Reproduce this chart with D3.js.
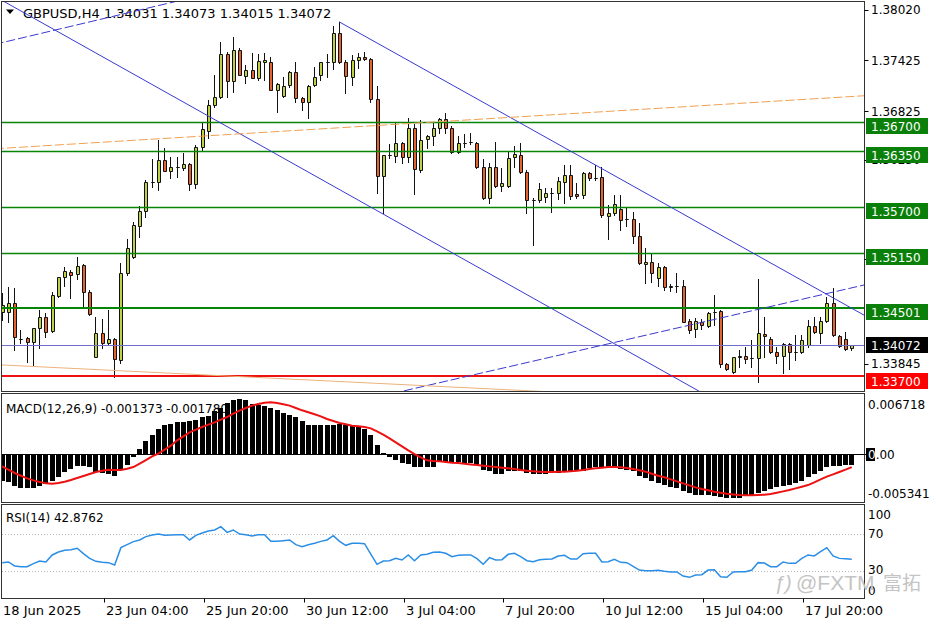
<!DOCTYPE html>
<html><head><meta charset="utf-8">
<script src="https://cdn.jsdelivr.net/npm/d3@7"></script>
<style>html,body{margin:0;padding:0;background:#fff;} svg{display:block;font-family:"DejaVu Sans",sans-serif;}</style>
</head><body><svg id="c" width="936" height="624"></svg>
<script>
// ---------- DATA ----------
const symbolTitle = "GBPUSD,H4";
const lastOHLC = ["1.34031","1.34073","1.34015","1.34072"];
const openP = [
1.34462,1.34462,1.34561,1.34137,1.34149,1.34109,1.34267,1.34403,1.34235,1.34650,
1.34867,1.34933,1.34906,1.35012,1.34691,1.33932,1.34208,1.34090,1.34137,1.33893,
1.34922,1.35110,1.35472,1.35648,1.35994,1.35994,1.36249,1.36123,1.36170,1.36158,
1.36202,1.35963,1.36399,1.36594,1.36894,1.36995,1.37494,1.37180,1.37545,1.37239,
1.37309,1.37219,1.37400,1.37400,1.37074,1.37007,1.37133,1.37289,1.36983,1.36936,
1.37129,1.37251,1.37400,1.37400,1.37742,1.37407,1.37231,1.37427,1.37466,1.37435,
1.36968,1.36064,1.36308,1.36296,1.36453,1.36288,1.36630,1.36131,1.36493,1.36532,
1.36623,1.36729,1.36623,1.36347,1.36453,1.36465,1.36453,1.36163,1.35798,1.36163,
1.35947,1.35947,1.36281,1.36308,1.36111,1.35778,1.35778,1.35817,1.35857,1.35857,
1.35994,1.36073,1.35845,1.35837,1.36093,1.36041,1.36045,1.35593,1.35621,1.35668,
1.35551,1.35551,1.35354,1.35024,1.35051,1.34856,1.34992,1.34750,1.34759,1.34765,
1.34353,1.34258,1.34344,1.34294,1.34462,1.34470,1.33846,1.33755,1.33925,1.33940,
1.33913,1.33913,1.34200,1.34137,1.33984,1.33940,1.34082,1.33991,1.33991,1.34070,
1.34294,1.34215,1.34356,1.34568,1.34176,1.34141,1.34031];
const highP = [
1.34679,1.34757,1.34738,1.34247,1.34168,1.34267,1.34482,1.34443,1.34698,1.34875,
1.34992,1.34953,1.35103,1.35020,1.34718,1.34403,1.34376,1.34482,1.34149,1.35032,
1.35315,1.35522,1.35707,1.36014,1.36257,1.36485,1.36387,1.36288,1.36288,1.36328,
1.36210,1.36426,1.36700,1.36956,1.37247,1.37643,1.37525,1.37702,1.37565,1.37368,
1.37506,1.37498,1.37513,1.37459,1.37153,1.37231,1.37301,1.37407,1.36995,1.37133,
1.37348,1.37407,1.37498,1.37828,1.37878,1.37427,1.37486,1.37506,1.37525,1.37447,
1.37121,1.36308,1.36438,1.36682,1.36465,1.36740,1.36673,1.36720,1.36544,1.36700,
1.36740,1.36806,1.36650,1.36532,1.36556,1.36564,1.36465,1.36257,1.36210,1.36465,
1.36151,1.36347,1.36414,1.36446,1.36131,1.35798,1.35975,1.35916,1.35916,1.36053,
1.36190,1.36190,1.35975,1.36111,1.36111,1.36190,1.36170,1.35719,1.35837,1.35837,
1.35680,1.35640,1.35511,1.35209,1.35157,1.35032,1.35001,1.34789,1.34922,1.34836,
1.34376,1.34388,1.34376,1.34459,1.34659,1.34482,1.33861,1.33932,1.34011,1.34050,
1.34129,1.34844,1.34403,1.34161,1.34050,1.34090,1.34090,1.34188,1.34188,1.34364,
1.34403,1.34403,1.34639,1.34738,1.34188,1.34227,1.34073];
const lowP = [
1.34364,1.34344,1.34011,1.34090,1.33873,1.33834,1.34031,1.34168,1.34227,1.34640,
1.34765,1.34620,1.34844,1.34529,1.34423,1.33925,1.34031,1.34070,1.33697,1.33861,
1.34894,1.35091,1.35346,1.35581,1.35935,1.35896,1.36123,1.36034,1.36053,1.36131,
1.35896,1.35916,1.36367,1.36505,1.36870,1.36983,1.36995,1.37054,1.37251,1.37153,
1.37219,1.37192,1.37192,1.37074,1.36818,1.36995,1.37106,1.36936,1.36838,1.36740,
1.37121,1.37192,1.37231,1.37318,1.37395,1.37035,1.37133,1.37329,1.37427,1.36936,
1.35864,1.35621,1.36269,1.36229,1.36217,1.36229,1.35845,1.36111,1.36387,1.36426,
1.36571,1.36564,1.36335,1.36335,1.36406,1.36438,1.36151,1.35786,1.35746,1.35935,
1.35884,1.35935,1.36170,1.36093,1.35621,1.35248,1.35758,1.35758,1.35640,1.35786,
1.35739,1.35786,1.35798,1.35798,1.36014,1.36014,1.35581,1.35315,1.35601,1.35425,
1.35472,1.35275,1.35024,1.34797,1.34816,1.34765,1.34718,1.34706,1.34698,1.34341,
1.34211,1.34164,1.34258,1.34282,1.34306,1.33814,1.33775,1.33744,1.33814,1.33854,
1.33814,1.33638,1.33932,1.33972,1.33854,1.33737,1.33784,1.33893,1.33979,1.34050,
1.34208,1.34090,1.34344,1.34176,1.34050,1.34011,1.34015];
const closeP = [
1.34541,1.34561,1.34168,1.34140,1.34102,1.34267,1.34403,1.34227,1.34659,1.34875,
1.34945,1.34894,1.35004,1.34698,1.34435,1.34208,1.34090,1.34137,1.33901,1.34914,
1.35209,1.35484,1.35648,1.35994,1.35990,1.36249,1.36123,1.36170,1.36165,1.36202,
1.35963,1.36399,1.36611,1.36894,1.36995,1.37494,1.37180,1.37545,1.37251,1.37309,
1.37219,1.37419,1.37427,1.37074,1.37141,1.37121,1.37289,1.36983,1.36936,1.37121,
1.37231,1.37400,1.37403,1.37742,1.37407,1.37239,1.37427,1.37466,1.37435,1.36968,
1.36064,1.36308,1.36305,1.36453,1.36288,1.36630,1.36140,1.36485,1.36532,1.36623,
1.36729,1.36623,1.36347,1.36453,1.36450,1.36462,1.36163,1.35798,1.36163,1.35943,
1.35982,1.36276,1.36316,1.36111,1.35778,1.35775,1.35904,1.35857,1.35855,1.36002,
1.36073,1.35825,1.35825,1.36093,1.36034,1.36038,1.35601,1.35621,1.35727,1.35542,
1.35548,1.35354,1.35032,1.35051,1.34922,1.34992,1.34750,1.34759,1.34765,1.34344,
1.34247,1.34353,1.34306,1.34450,1.34458,1.33843,1.33784,1.33925,1.33940,1.33901,
1.33910,1.34208,1.34176,1.33991,1.33940,1.34082,1.33991,1.33988,1.34128,1.34294,
1.34227,1.34356,1.34568,1.34188,1.34058,1.34023,1.34072];

const macdHist = [
-0.00358,-0.00372,-0.00417,-0.00454,-0.00454,-0.00449,-0.00417,-0.00395,-0.00358,-0.00304,
-0.00236,-0.00190,-0.00154,-0.00154,-0.00168,-0.00236,-0.00245,-0.00258,-0.00281,-0.00190,
-0.00132,-0.00023,0.00068,0.00172,0.00254,0.00340,0.00390,0.00413,0.00431,0.00431,
0.00444,0.00467,0.00503,0.00522,0.00580,0.00626,0.00694,0.00730,0.00748,0.00739,
0.00685,0.00671,0.00658,0.00626,0.00594,0.00558,0.00535,0.00503,0.00444,0.00399,
0.00390,0.00390,0.00390,0.00390,0.00408,0.00390,0.00376,0.00363,0.00340,0.00263,
0.00127,0.00014,-0.00023,-0.00063,-0.00109,-0.00122,-0.00159,-0.00159,-0.00159,-0.00159,
-0.00100,-0.00100,-0.00100,-0.00100,-0.00113,-0.00113,-0.00132,-0.00204,-0.00222,-0.00258,
-0.00258,-0.00222,-0.00222,-0.00222,-0.00249,-0.00258,-0.00258,-0.00258,-0.00249,-0.00240,
-0.00227,-0.00222,-0.00222,-0.00213,-0.00177,-0.00159,-0.00177,-0.00177,-0.00177,-0.00190,
-0.00204,-0.00222,-0.00281,-0.00313,-0.00349,-0.00385,-0.00404,-0.00431,-0.00449,-0.00494,
-0.00522,-0.00540,-0.00540,-0.00540,-0.00553,-0.00567,-0.00585,-0.00585,-0.00585,-0.00553,
-0.00540,-0.00522,-0.00494,-0.00463,-0.00440,-0.00417,-0.00404,-0.00385,-0.00358,-0.00304,
-0.00258,-0.00222,-0.00160,-0.00152,-0.00146,-0.00141,-0.001373];
const macdSignal = [
-0.00168,-0.00213,-0.00258,-0.00295,-0.00331,-0.00358,-0.00381,-0.00399,-0.00404,-0.00395,
-0.00376,-0.00354,-0.00327,-0.00299,-0.00272,-0.00245,-0.00227,-0.00213,-0.00218,-0.00218,
-0.00200,-0.00177,-0.00132,-0.00082,-0.00032,0.00005,0.00059,0.00113,0.00186,0.00240,
0.00295,0.00331,0.00367,0.00399,0.00431,0.00467,0.00503,0.00549,0.00590,0.00626,
0.00658,0.00680,0.00698,0.00703,0.00694,0.00676,0.00658,0.00626,0.00594,0.00567,
0.00540,0.00512,0.00476,0.00449,0.00422,0.00404,0.00385,0.00376,0.00367,0.00349,
0.00308,0.00263,0.00213,0.00159,0.00104,0.00050,0.00000,-0.00045,-0.00086,-0.00095,
-0.00100,-0.00109,-0.00118,-0.00122,-0.00132,-0.00141,-0.00150,-0.00159,-0.00168,-0.00177,
-0.00186,-0.00195,-0.00204,-0.00218,-0.00227,-0.00236,-0.00240,-0.00245,-0.00245,-0.00240,
-0.00240,-0.00236,-0.00227,-0.00218,-0.00204,-0.00195,-0.00186,-0.00177,-0.00177,-0.00181,
-0.00190,-0.00204,-0.00222,-0.00240,-0.00268,-0.00295,-0.00317,-0.00345,-0.00372,-0.00399,
-0.00426,-0.00454,-0.00476,-0.00494,-0.00512,-0.00526,-0.00540,-0.00549,-0.00558,-0.00562,
-0.00562,-0.00558,-0.00553,-0.00544,-0.00526,-0.00508,-0.00490,-0.00467,-0.00444,-0.00422,
-0.00385,-0.00345,-0.00308,-0.00277,-0.00245,-0.00213,-0.00178];
const rsiValues = [
39.1,39.8,35.5,34.7,34.7,38.0,40.9,39.8,47.4,50.6,
52.4,53.1,54.6,48.8,43.7,40.5,39.4,39.1,36.5,55.3,
58.5,61.8,63.6,67.2,69.0,70.0,68.6,69.0,69.3,69.3,
63.6,68.6,71.1,73.3,74.4,78.0,71.8,74.4,70.0,69.3,
67.9,69.3,69.3,62.1,62.1,62.8,63.6,58.5,56.3,58.5,
60.0,62.1,63.6,68.2,62.1,57.8,60.0,60.0,59.6,48.4,
37.3,40.9,41.2,43.7,41.9,47.4,41.2,47.4,48.1,50.2,
50.6,49.2,45.5,47.0,47.4,47.4,43.4,37.3,44.5,41.9,
42.3,48.1,49.2,45.5,41.2,40.1,42.3,42.7,43.0,46.3,
47.0,43.0,43.0,48.8,49.2,49.2,39.8,40.1,42.7,39.4,
39.1,35.1,31.1,30.4,30.4,30.8,29.7,29.0,29.0,24.6,
23.2,25.7,26.1,31.1,31.5,23.9,23.2,29.0,29.3,29.3,
31.1,39.1,38.7,34.7,34.7,39.8,38.3,38.3,43.7,47.4,
46.3,50.9,55.3,46.3,43.7,43.4,42.88];

const macdTitle = "MACD(12,26,9) -0.001373 -0.001780";
const rsiTitle = "RSI(14) 42.8762";
const timeTickLabels = ["18 Jun 2025","23 Jun 04:00","25 Jun 20:00","30 Jun 12:00","3 Jul 04:00","7 Jul 20:00","10 Jul 12:00","15 Jul 04:00","17 Jul 20:00"];
const timeTickBars = [0,16,32,48,64,80,96,112,128];
const priceTickLabels = ["1.38020","1.37425","1.36825","1.36250","1.35085","1.33845"];
const greenLevels = [1.36700,1.36350,1.35700,1.35150,1.34501];
const bidLevel = 1.34072;
const redLevel = 1.33700;
const macdTickLabels = ["0.006718","0.00","-0.005341"];
const rsiTickLabels = ["100","70","30","0"];
const rsiLevels = [70,30];
// trend line anchors: [bar index, price]
const trendAnchors = [
  {id:"descMain",  a:[0.53,1.38110], b:[110.7,1.33563], ray:false},
  {id:"descUpper", a:[54,1.37878],   b:[137.4,1.34447], ray:true},
  {id:"ascUpper",  a:[0,1.37631],    b:[27.7,1.38114],  ray:false},
  {id:"ascLower",  a:[73.4,1.33681], b:[137.4,1.34765], ray:false},
  {id:"orgDashed", a:[0,1.36386],    b:[137.4,1.37003], ray:false},
  {id:"orgSolid",  a:[0,1.33834],    b:[75,1.33563],    ray:false}
];
const trendStyles = {
  descMain:{c:"#3a3ad0",w:1,d:null},
  descUpper:{c:"#3a3ad0",w:1,d:null},
  ascUpper:{c:"#3a3ad0",w:1,d:"9,3"},
  ascLower:{c:"#3a3ad0",w:1,d:"9,3"},
  orgDashed:{c:"#f0a050",w:1,d:"9,3"},
  orgSolid:{c:"#ecb27a",w:1,d:null}
};

// ---------- LAYOUT ----------
const svg = d3.select("#c");
const L = 2, R = 864.5;
const main = {top:1.5, bottom:391.5};
const macdP = {top:393.5, bottom:502.5};
const rsiP = {top:504.5, bottom:598.5};
const n = closeP.length;
const x = d3.scaleLinear().domain([0, 136]).range([1.7, 851.3]);
const y = d3.scaleLinear().domain([1.337, 1.3802]).range([376.3, 9.7]);
const ym = d3.scaleLinear().domain([-0.005341, 0.006718]).range([493.3, 404.6]);
const yr = d3.scaleLinear().domain([0, 100]).range([598.8, 506.3]);
const FONT = "DejaVu Sans";

const defs = svg.append("defs");
[["clipMain",main],["clipMacd",macdP],["clipRsi",rsiP]].forEach(([id,p])=>{
  defs.append("clipPath").attr("id",id).append("rect")
    .attr("x",L).attr("y",p.top).attr("width",R-L).attr("height",p.bottom-p.top);
});
svg.append("rect").attr("width",936).attr("height",624).attr("fill","#fff");

// ---------- MAIN PANEL ----------
const gMain = svg.append("g").attr("clip-path","url(#clipMain)");
gMain.append("path").attr("d","M6,9.5 L14,9.5 L10,14 Z").attr("fill","#000");
gMain.append("text").attr("x",23).attr("y",18).attr("font-size",13).attr("fill","#000")
  .attr("font-family",FONT).text(symbolTitle + "  " + lastOHLC.join(" "));

const cg = gMain.append("g");
for (let i=0;i<n;i++){
  const cx = Math.round(x(i));
  const o=openP[i], c=closeP[i], h=highP[i], l=lowP[i];
  const bull = c>=o;
  cg.append("line").attr("x1",cx+0.5).attr("x2",cx+0.5)
    .attr("y1",Math.round(y(h))).attr("y2",Math.round(y(l))+1)
    .attr("stroke","#111").attr("stroke-width",1);
  const yt = Math.round(y(Math.max(o,c)))+0.5, yb = Math.round(y(Math.min(o,c)))+0.5;
  cg.append("path").attr("d",`M${cx-0.5},${yt} h3 V${yb} h-3 Z`)
    .attr("fill", bull ? "#bfd044" : "#e4642e")
    .attr("stroke","#111").attr("stroke-width",1);
}

greenLevels.forEach((p,k)=>{
  const yy = Math.round(y(p)) + (k===4?0:0.5);
  gMain.append("line").attr("x1",L).attr("x2",R).attr("y1",yy).attr("y2",yy)
    .attr("stroke","#078507").attr("stroke-width",k===4?2:1.3);
});
gMain.append("line").attr("x1",L).attr("x2",R).attr("y1",Math.round(y(bidLevel))+0.5).attr("y2",Math.round(y(bidLevel))+0.5)
  .attr("stroke","#6f6fc8").attr("stroke-width",1);
gMain.append("line").attr("x1",L).attr("x2",R).attr("y1",Math.round(y(redLevel))).attr("y2",Math.round(y(redLevel)))
  .attr("stroke","#ee1111").attr("stroke-width",2);

trendAnchors.forEach(t=>{
  const s = trendStyles[t.id];
  const slope = (t.b[1]-t.a[1])/(t.b[0]-t.a[0]);
  const i0 = t.ray ? t.a[0] : -3, i1 = 141;
  gMain.append("line")
    .attr("x1",x(i0)).attr("y1",y(t.a[1]+slope*(i0-t.a[0])))
    .attr("x2",x(i1)).attr("y2",y(t.a[1]+slope*(i1-t.a[0])))
    .attr("stroke",s.c).attr("stroke-width",s.w).attr("stroke-dasharray",s.d);
});

// ---------- MACD PANEL ----------
svg.append("text").attr("x",6).attr("y",413).attr("font-size",12).attr("font-family",FONT)
  .attr("fill","#000").text(macdTitle);
const gM = svg.append("g").attr("clip-path","url(#clipMacd)");
const z0 = Math.round(ym(0));
gM.append("line").attr("x1",L).attr("x2",R).attr("y1",z0+0.5).attr("y2",z0+0.5).attr("stroke","#000");
macdHist.forEach((v,i)=>{
  const cx = Math.round(x(i));
  const yy = Math.round(ym(v));
  gM.append("rect").attr("x",cx-2).attr("width",5)
    .attr("y",Math.min(yy,z0)).attr("height",Math.max(1,Math.abs(yy-z0)+1)).attr("fill","#000");
});
gM.append("path").datum(macdSignal)
  .attr("d",d3.line().x((d,i)=>x(i)+0.5).y(d=>ym(d)))
  .attr("fill","none").attr("stroke","#ee1111").attr("stroke-width",2);

// ---------- RSI PANEL ----------
svg.append("text").attr("x",6).attr("y",521.5).attr("font-size",12).attr("font-family",FONT)
  .attr("fill","#000").text(rsiTitle);
const gR = svg.append("g").attr("clip-path","url(#clipRsi)");
rsiLevels.forEach(lv=>{
  gR.append("line").attr("x1",L).attr("x2",R).attr("y1",Math.round(yr(lv))+0.5).attr("y2",Math.round(yr(lv))+0.5)
    .attr("stroke","#b8b8b8").attr("stroke-dasharray","1,2");
});
gR.append("path").datum(rsiValues)
  .attr("d",d3.line().x((d,i)=>x(i)+0.5).y(d=>yr(d)))
  .attr("fill","none").attr("stroke","#2b8ee6").attr("stroke-width",1.5);

// ---------- FRAMES ----------
[main,macdP,rsiP].forEach(p=>{
  svg.append("rect").attr("x",L-0.5).attr("y",p.top).attr("width",R-L+0.5).attr("height",p.bottom-p.top)
    .attr("fill","none").attr("stroke","#333").attr("stroke-width",1);
});

// ---------- PRICE AXIS ----------
const ax = svg.append("g").attr("font-family",FONT).attr("font-size",12);
priceTickLabels.forEach(t=>{
  const yy = y(+t);
  ax.append("line").attr("x1",R).attr("x2",R+4).attr("y1",Math.round(yy)+0.5).attr("y2",Math.round(yy)+0.5).attr("stroke","#000");
  ax.append("text").attr("x",871).attr("y",yy+4.4).attr("fill","#000").text(t);
});
function priceBox(p, bg, off){
  const yy = Math.round(y(p)) + off;
  ax.append("rect").attr("x",866).attr("y",yy-8).attr("width",62).attr("height",16).attr("fill",bg);
  ax.append("text").attr("x",871).attr("y",yy+4.5).attr("fill","#fff").text(p.toFixed(5));
}
greenLevels.forEach(p=>priceBox(p,"#0a800a",4));
priceBox(bidLevel,"#000",0);
priceBox(redLevel,"#ff0000",5);

ax.append("text").attr("x",868).attr("y",ym(0.006718)+4.4).text(macdTickLabels[0]);
ax.append("rect").attr("x",866).attr("y",z0-6).attr("width",9).attr("height",13).attr("fill","#000");
const zt = ax.append("text").attr("x",868).attr("y",z0+4.9);
zt.append("tspan").attr("fill","#fff").text(macdTickLabels[1].slice(0,1));
zt.append("tspan").attr("fill","#000").text(macdTickLabels[1].slice(1));
ax.append("text").attr("x",868).attr("y",ym(-0.005341)+4.4).text(macdTickLabels[2]);
ax.append("line").attr("x1",R).attr("x2",R+3).attr("y1",z0+0.5).attr("y2",z0+0.5).attr("stroke","#000");

const rsiLabelY = [515, 534, 570, 591];
rsiTickLabels.forEach((t,k)=>{
  ax.append("text").attr("x",868).attr("y",rsiLabelY[k]+4.4).text(t);
});

// ---------- TIME AXIS ----------
const tx = svg.append("g").attr("font-family",FONT).attr("font-size",13);
timeTickLabels.forEach((t,k)=>{
  const xx = Math.round(x(timeTickBars[k]));
  if (k>0) tx.append("line").attr("x1",xx+2.5).attr("x2",xx+2.5).attr("y1",rsiP.bottom).attr("y2",rsiP.bottom+4).attr("stroke","#000");
  tx.append("text").attr("x",k===0?3:xx+4).attr("y",615).attr("fill","#000").text(t);
});

// ---------- WATERMARK ----------
const wm = svg.append("g").attr("fill","#c4c4c4");
wm.append("text").attr("x",774).attr("y",590).attr("font-size",20).attr("font-family","Liberation Sans").attr("font-style","italic").text("ƒ)");
wm.append("text").attr("x",796).attr("y",590).attr("font-size",21).attr("font-family","Liberation Sans").text("@FXTM");
wm.append("text").attr("x",883).attr("y",590).attr("font-size",19).attr("font-family","Noto Sans CJK SC").text("富拓");
</script></body></html>
